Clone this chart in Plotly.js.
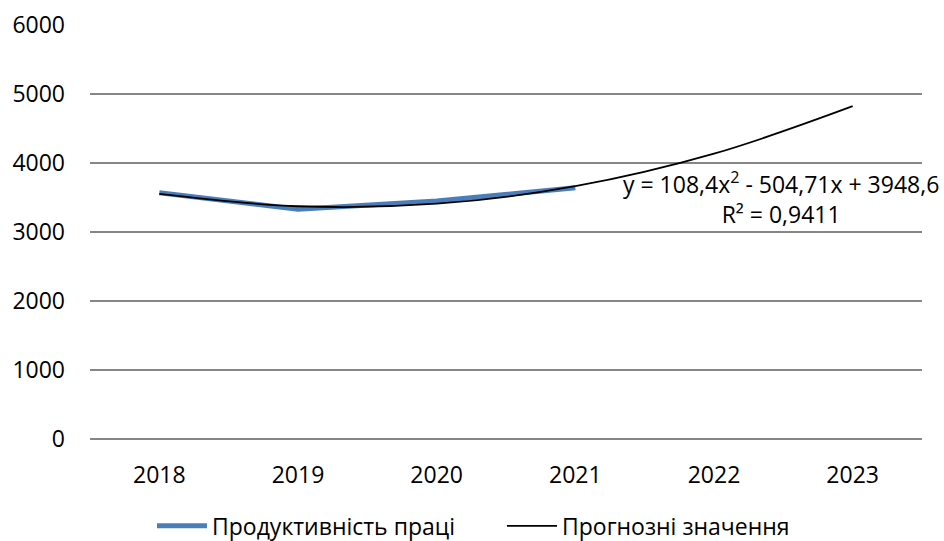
<!DOCTYPE html>
<html><head><meta charset="utf-8">
<script src="https://cdn.plot.ly/plotly-3.0.1.min.js"></script>
<style>html,body{margin:0;padding:0;background:#fff}#chart{width:944px;height:541px}</style>
</head><body><div id="chart"></div>
<script>
const years = ["2018","2019","2020","2021","2022","2023"];
const actualYears = ["2018","2019","2020","2021"];
const productivity = [3570, 3330, 3450, 3640];
const forecast = [3552, 3373, 3410, 3664, 4135, 4823];
const seriesNames = ["Продуктивність праці", "Прогнозні значення"];
const equationText = "y = 108,4x<sup>2</sup> - 504,71x + 3948,6<br>R² = 0,9411";

const font = {family: "Open Sans, Liberation Sans, sans-serif", size: 23, color: "#000"};

const traces = [
  {x: actualYears, y: productivity, type: "scatter", mode: "lines", name: seriesNames[0],
   line: {color: "#4A7EBB", width: 5}},
  {x: years, y: forecast, type: "scatter", mode: "lines", name: seriesNames[1],
   line: {color: "#000", width: 1.8, shape: "spline", smoothing: 1}}
];

const layout = {
  width: 944, height: 541,
  margin: {l: 90, r: 22, t: 25, b: 102, autoexpand: false},
  paper_bgcolor: "#fff", plot_bgcolor: "#fff",
  font: font,
  showlegend: true,
  legend: {orientation: "h", xref: "container", yref: "container", x: 0.161, xanchor: "left",
           y: 0.028, yanchor: "middle", font: font, itemwidth: 50, tracegroupgap: 0,
           entrywidth: 285, entrywidthmode: "pixels"},
  xaxis: {type: "category", categoryorder: "array", categoryarray: years,
          range: [-0.5, 5.5], showgrid: false, zeroline: false, showline: false,
          ticks: "", tickfont: font, ticklabelstandoff: 20, fixedrange: true, automargin: false},
  yaxis: {range: [0, 6000], dtick: 1000, tick0: 0, showgrid: true,
          gridcolor: "#868686", gridwidth: 1.5, zeroline: true, zerolinecolor: "#868686",
          zerolinewidth: 1.5, showline: false,
          ticks: "", tickfont: font, ticklabelstandoff: 24, fixedrange: true, automargin: false},
  annotations: [{xref: "paper", yref: "y", x: 0.83, y: 3500, xanchor: "center", yanchor: "middle",
    text: equationText, showarrow: false, align: "center", font: font}]
};

Plotly.newPlot("chart", traces, layout, {displayModeBar: false, staticPlot: true});
</script></body></html>
